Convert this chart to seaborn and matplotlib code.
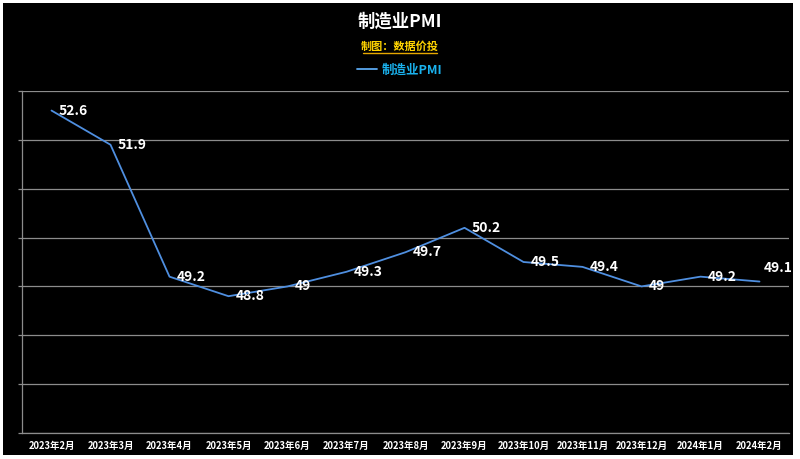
"""
制造业PMI 折线图（黑底，仿 Excel 风格）
"""

import matplotlib.pyplot as plt
import pandas as pd
import seaborn as sns
from matplotlib.lines import Line2D
from matplotlib.patches import Rectangle
from matplotlib.ticker import FixedLocator

months = ['2023年2月', '2023年3月', '2023年4月', '2023年5月', '2023年6月',
          '2023年7月', '2023年8月', '2023年9月', '2023年10月', '2023年11月',
          '2023年12月', '2024年1月', '2024年2月']
pmi = [52.6, 51.9, 49.2, 48.8, 49, 49.3, 49.7, 50.2, 49.5, 49.4, 49, 49.2, 49.1]
y_ticks = [46, 47, 48, 49, 50, 51, 52, 53]

LINE_C = '#4f8fe0'
GRID_C = '#8c8c8c'

sns.set_style('dark')
plt.rcParams['font.family'] = ['Noto Sans CJK SC', 'DejaVu Sans']
plt.rcParams['axes.unicode_minus'] = False

df = pd.DataFrame({'月份': months, '制造业PMI': pmi})

fig = plt.figure(figsize=(8, 4.59), dpi=100, facecolor='white')
# 黑色图表区
fig.add_artist(Rectangle((3 / 800, 4 / 459), 790 / 800, 452 / 459,
                         transform=fig.transFigure, facecolor='black',
                         edgecolor='none', zorder=0))

ax = fig.add_axes([22 / 800, 1 - 433 / 459, 767 / 800, 342 / 459])
ax.set_facecolor('black')

sns.lineplot(data=df, x='月份', y='制造业PMI', sort=False, ax=ax,
             color=LINE_C, linewidth=1.3, label='制造业PMI')

for i, v in enumerate(pmi):
    off = (5, 0) if i < len(pmi) - 1 else (3, 10)
    ax.annotate(f'{v:g}', (i, v), xytext=off, textcoords='offset points',
                ha='left', va='center', color='white', fontsize=10,
                fontweight='bold')

ax.set_xlim(-0.5, len(months) - 0.5)
ax.set_ylim(46, 53)
ax.set_yticks(y_ticks)
ax.set_yticklabels([])
ax.yaxis.grid(True, color=GRID_C, linewidth=0.9)
ax.xaxis.grid(False)
ax.set_xlabel('')
ax.set_ylabel('')

ax.xaxis.set_minor_locator(FixedLocator([i - 0.5 for i in range(len(months) + 1)]))
ax.tick_params(axis='x', which='major', length=0, pad=6, labelsize=6.8,
               labelcolor='white')
ax.tick_params(axis='x', which='minor', length=3, color=GRID_C, width=0.9)
ax.tick_params(axis='y', length=3, color=GRID_C, width=0.9, left=True)
for lab in ax.get_xticklabels():
    lab.set_fontweight('bold')

for side in ['top', 'right']:
    ax.spines[side].set_visible(False)
for side in ['left', 'bottom']:
    ax.spines[side].set_color(GRID_C)
    ax.spines[side].set_linewidth(0.9)

# 标题、副标题、图例
fig.text(0.5, 1 - 22 / 459, '制造业PMI', ha='center', va='center',
         color='white', fontsize=12.5, fontweight='bold')
fig.text(0.5, 1 - 46 / 459, '制图：数据价投', ha='center', va='center',
         color='#ffd400', fontsize=8, fontweight='bold')
fig.add_artist(Line2D([363 / 800, 437 / 800], [1 - 53 / 459, 1 - 53 / 459],
                      transform=fig.transFigure, color='#e6a800', linewidth=1))

leg = ax.legend(loc='center', bbox_to_anchor=(0.5, 1 - 70 / 459),
                bbox_transform=fig.transFigure, frameon=False,
                handlelength=1.6, handletextpad=0.4,
                prop={'size': 9, 'weight': 'bold'})
for t in leg.get_texts():
    t.set_color('#1ab2ee')
leg.get_lines()[0].set_color('#5aa8f0')

fig.savefig('out.png', dpi=100, facecolor=fig.get_facecolor())
